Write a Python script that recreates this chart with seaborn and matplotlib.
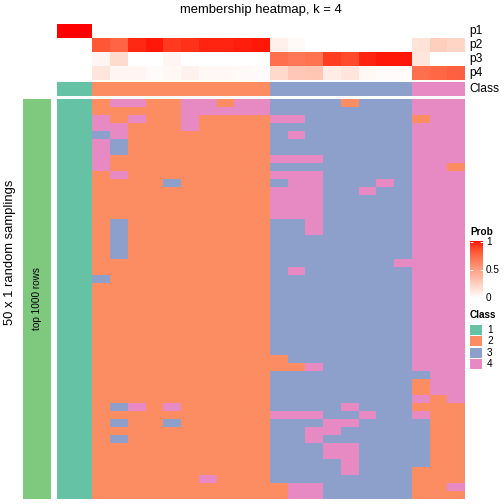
import numpy as np
import pandas as pd
import seaborn as sns
import matplotlib
matplotlib.use('Agg')
import matplotlib.pyplot as plt
from matplotlib.colors import ListedColormap
from matplotlib.patches import Rectangle

# class membership probabilities of the 23 samples
p1 = [1, 1, 0, 0, 0, 0, 0, 0, 0, 0, 0, 0, 0, 0, 0, 0, 0, 0, 0, 0, 0, 0, 0]
p2 = [0, 0, 0.82, 0.76, 0.95, 0.98, 0.91, 0.93, 0.96, 0.96, 0.97, 0.98,
      0.08, 0.03, 0, 0, 0, 0, 0, 0, 0.15, 0.25, 0.22]
p3 = [0, 0, 0.05, 0.19, 0, 0, 0.05, 0, 0, 0, 0, 0,
      0.72, 0.68, 0.70, 0.90, 0.86, 0.96, 0.98, 0.98, 0.13, 0, 0]
p4 = [0, 0, 0.13, 0.05, 0.05, 0.02, 0.04, 0.07, 0.04, 0.04, 0.03, 0.02,
      0.20, 0.29, 0.30, 0.10, 0.14, 0.04, 0.02, 0.02, 0.72, 0.75, 0.78]
sample_class = [1, 1, 2, 2, 2, 2, 2, 2, 2, 2, 2, 2, 3, 3, 3, 3, 3, 3, 3, 3, 4, 4, 4]
prob_names = ['p1', 'p2', 'p3', 'p4']
class_names = ['1', '2', '3', '4']

# class of each sample in the 50 random samplings (one string per sampling)
membership = [
    "11" "2442244244" "33332333" "444",
    "11" "2222244444" "33333333" "444",
    "11" "4242242222" "44333333" "244",
    "11" "4422242222" "33333333" "444",
    "11" "3422222222" "34333333" "444",
    "11" "4322222222" "33333333" "444",
    "11" "4322222222" "33333333" "444",
    "11" "4222222222" "44433333" "444",
    "11" "4222222222" "33333333" "442",
    "11" "2422222222" "44433333" "444",
    "11" "2222322222" "34433343" "444",
    "11" "2222222222" "44433433" "444",
    "11" "2222222222" "44433333" "444",
    "11" "2222222222" "44433333" "444",
    "11" "2222222222" "44433333" "444",
    "11" "2322222222" "33433333" "444",
    "11" "2322222222" "33433333" "444",
    "11" "2322222222" "33333333" "444",
    "11" "2322222222" "33333333" "444",
    "11" "2322222222" "33333333" "444",
    "11" "2222222222" "33333334" "444",
    "11" "2222222222" "34333333" "444",
    "11" "3222222222" "33333333" "444",
    "11" "2222222222" "33333333" "444",
    "11" "2222222222" "33333333" "444",
    "11" "2222222222" "33333333" "444",
    "11" "2222222222" "33333333" "444",
    "11" "2222222222" "33333333" "444",
    "11" "2222222222" "33333333" "444",
    "11" "2222222222" "33333333" "444",
    "11" "2222222222" "33333333" "444",
    "11" "2222222222" "33333333" "444",
    "11" "2222222222" "23333333" "444",
    "11" "2222222222" "22433333" "444",
    "11" "2222222222" "33333333" "344",
    "11" "2222222222" "33333333" "244",
    "11" "2222222222" "33333333" "244",
    "11" "2222222222" "33333333" "424",
    "11" "2342422222" "33334333" "222",
    "11" "2222222222" "44433433" "422",
    "11" "2322322222" "33344333" "322",
    "11" "2222222222" "33443333" "322",
    "11" "2322222222" "33433333" "322",
    "11" "2222222222" "33344333" "322",
    "11" "2222222222" "33344333" "322",
    "11" "2222222222" "33334333" "322",
    "11" "2222222222" "33334333" "222",
    "11" "2222224222" "33333333" "222",
    "11" "2222222222" "24433333" "224",
    "11" "2222222222" "24433333" "222",
]

class_colors = ['#66C2A5', '#FC8D62', '#8DA0CB', '#E78AC3']
class_cmap = ListedColormap(class_colors)


# white -> red ramp interpolated in LAB space
def lab_to_rgb(L, a, b):
    fy = (L + 16) / 116
    fx = fy + a / 500
    fz = fy - b / 200
    finv = lambda t: np.where(t > 6 / 29, t ** 3, 3 * (6 / 29) ** 2 * (t - 4 / 29))
    xyz = np.vstack([0.95047 * finv(fx), finv(fy), 1.08883 * finv(fz)])
    M = np.array([[3.2406, -1.5372, -0.4986],
                  [-0.9689, 1.8758, 0.0415],
                  [0.0557, -0.2040, 1.0570]])
    rgb = M @ xyz
    rgb = np.where(rgb > 0.0031308, 1.055 * np.abs(rgb) ** (1 / 2.4) - 0.055, 12.92 * rgb)
    return np.clip(rgb.T, 0, 1)


t = np.linspace(0, 1, 256)
prob_cmap = ListedColormap(lab_to_rgb(100 + t * (53.24 - 100), t * 80.09, t * 67.20))

plt.rcParams['font.family'] = ['Liberation Sans', 'DejaVu Sans']

W = H = 504
fig = plt.figure(figsize=(7, 7), dpi=72)


def box(x0, y0, x1, y1):
    return [x0 / W, 1 - y1 / H, (x1 - x0) / W, (y1 - y0) / H]


# probability annotation
prob_df = pd.DataFrame([p1, p2, p3, p4], index=prob_names)
ax_p = fig.add_axes(box(57, 24, 465, 80))
sns.heatmap(prob_df, ax=ax_p, cmap=prob_cmap, vmin=0, vmax=1, cbar=False,
            xticklabels=False, yticklabels=False)

# class annotation
ax_c = fig.add_axes(box(57, 82, 465, 96))
sns.heatmap(pd.DataFrame([sample_class]), ax=ax_c, cmap=class_cmap, vmin=0.5, vmax=4.5,
            cbar=False, xticklabels=False, yticklabels=False)

# main membership heatmap
mat = pd.DataFrame([[int(c) for c in row] for row in membership])
ax_m = fig.add_axes(box(57, 99, 465, 499))
sns.heatmap(mat, ax=ax_m, cmap=class_cmap, vmin=0.5, vmax=4.5, cbar=False,
            xticklabels=False, yticklabels=False)

# row annotation bar on the left
ax_g = fig.add_axes(box(23, 99, 51, 499))
sns.heatmap(np.zeros((len(membership), 1)), ax=ax_g, cmap=ListedColormap(['#7FC97F']),
            cbar=False, xticklabels=False, yticklabels=False)
ax_g.text(0.5, 0.5, 'top 1000 rows', transform=ax_g.transAxes, rotation=90,
          ha='center', va='center', fontsize=10)

for ax in [ax_p, ax_c, ax_m, ax_g]:
    ax.set_xlabel('')
    ax.set_ylabel('')

# overlay in pixel units for titles and legends
ax_o = fig.add_axes([0, 0, 1, 1])
ax_o.axis('off')

ax_o.text(261, 10, 'membership heatmap, k = 4', ha='center', va='center', fontsize=13)
ax_o.text(10, 252, '50 x 1 random samplings', ha='center', va='center', rotation=90, fontsize=13)
for i, name in enumerate(prob_names):
    ax_o.text(469, 31 + 14 * i, name, ha='left', va='center', fontsize=12)
ax_o.text(469, 89, 'Class', ha='left', va='center', fontsize=12)

# Prob legend
ax_o.text(470, 232, 'Prob', ha='left', va='center', fontsize=10, fontweight='bold')
ax_o.imshow(np.linspace(0, 1, 256)[:, None], cmap=prob_cmap, origin='lower',
            extent=(470, 483, 298, 241), aspect='auto')
for v, lab in [(1, '1'), (0.5, '0.5'), (0, '0')]:
    y = 298 - 56 * v
    ax_o.text(486, y, lab, ha='left', va='center', fontsize=10)
    if v > 0:
        ax_o.hlines(y, 470, 473, color='white', lw=1)
        ax_o.hlines(y, 480, 483, color='white', lw=1)

# Class legend
ax_o.text(470, 315, 'Class', ha='left', va='center', fontsize=10, fontweight='bold')
for k, (col, lab) in enumerate(zip(class_colors, class_names)):
    y0 = 325 + 11.3 * k
    ax_o.add_patch(Rectangle((470, y0), 12, 10, facecolor=col, edgecolor='none'))
    ax_o.text(487, y0 + 5, lab, ha='left', va='center', fontsize=10)

ax_o.set_xlim(0, W)
ax_o.set_ylim(H, 0)

fig.savefig('out.png', dpi=72)
